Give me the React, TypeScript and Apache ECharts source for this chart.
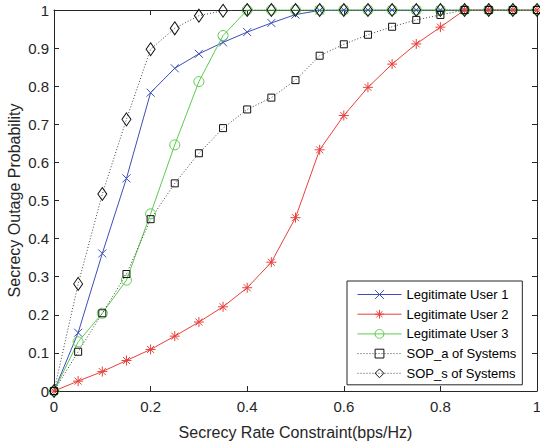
import React, { useEffect, useRef } from "react";
import * as echarts from "echarts";

const rates = [0, 0.05, 0.1, 0.15, 0.2, 0.25, 0.3, 0.35, 0.4, 0.45, 0.5, 0.55, 0.6, 0.65, 0.7, 0.75, 0.8, 0.85, 0.9, 0.95, 1];
const user1 = [0, 0.153, 0.361, 0.558, 0.783, 0.847, 0.885, 0.915, 0.942, 0.966, 0.988, 0.999, 1, 1, 1, 1, 1, 1, 1, 1, 1];
const user2 = [0, 0.026, 0.051, 0.08, 0.109, 0.144, 0.181, 0.221, 0.271, 0.338, 0.455, 0.633, 0.723, 0.797, 0.858, 0.911, 0.955, 1, 1, 1, 1];
const user3 = [0, 0.129, 0.204, 0.291, 0.465, 0.646, 0.812, 0.933, 1, 1, 1, 1, 1, 1, 1, 1, 1, 1, 1, 1, 1];
const sopA = [0, 0.103, 0.204, 0.307, 0.451, 0.545, 0.624, 0.69, 0.739, 0.77, 0.816, 0.88, 0.91, 0.935, 0.956, 0.974, 0.987, 1, 1, 1, 1];
const sopS = [0, 0.281, 0.517, 0.713, 0.897, 0.952, 0.985, 0.998, 1, 1, 1, 1, 1, 1, 1, 1, 1, 1, 1, 1, 1];

const seriesNames = ["Legitimate User 1", "Legitimate User 2", "Legitimate User 3", "SOP_a of Systems", "SOP_s of Systems"];
const xTitle = "Secrecy Rate Constraint(bps/Hz)";
const yTitle = "Secrecy Outage Probability";

const FONT = "'Liberation Sans', Arial, sans-serif";
const AX = "#262626";

const pairs = (vals: number[]) => rates.map((r, i) => [r, vals[i]]);

const CROSS = "path://M0,0L10,10M10,0L0,10";
const STAR = "path://M5,0L5,10M0,5L10,5M1.5,1.5L8.5,8.5M8.5,1.5L1.5,8.5";

const lineColors = ["#3b4fb8", "#e8403a", "#5ccc4c", "#444444", "#444444"];
const markColors = ["#3b4fb8", "#e8403a", "#5ccc4c", "#111111", "#111111"];
const lineTypes: any[] = ["solid", "solid", "solid", [1, 2], [1, 2]];

export default function App() {
  const ref = useRef<HTMLDivElement>(null);
  useEffect(() => {
    if (!ref.current) return;
    const chart = echarts.init(ref.current, undefined, { renderer: "svg" });
    const axisCommon = {
      type: "value" as const,
      min: 0,
      max: 1,
      splitLine: { show: false },
      axisLine: { show: true, onZero: false, lineStyle: { color: AX, width: 1 } },
      axisTick: { show: true, inside: true, length: 5, lineStyle: { color: AX } },
    };
    const mk = (idx: number, vals: number[], symbol: string, size: number | number[]) => ({
      name: seriesNames[idx],
      type: "line",
      data: pairs(vals),
      symbol,
      symbolSize: size,
      showAllSymbol: true,
      lineStyle: { color: lineColors[idx], width: 1, type: lineTypes[idx] },
      itemStyle: { color: "rgba(0,0,0,0)", borderColor: markColors[idx], borderWidth: 1 },
      emphasis: { disabled: true },
      z: 2,
    });
    chart.setOption({
      animation: false,
      textStyle: { fontFamily: FONT },
      grid: { left: 54, right: 3, top: 10, bottom: 53, outerBoundsMode: "none", containLabel: false },
      legend: {
        data: seriesNames.map((n, i) => ({
          name: n,
          lineStyle: { color: lineColors[i], width: 1, type: lineTypes[i] },
          itemStyle: { color: "rgba(0,0,0,0)", borderColor: markColors[i], borderWidth: 1 },
        })),
        orient: "vertical",
        left: 347,
        top: 281,
        padding: [7, 6, 5, 10],
        itemWidth: 44,
        itemHeight: 11,
        itemGap: 6.7,
        backgroundColor: "#ffffff",
        borderColor: AX,
        borderWidth: 1,
        borderRadius: 0,
        textStyle: { fontFamily: FONT, fontSize: 13, color: "#000" },
      },
      xAxis: [
        {
          ...axisCommon,
          interval: 0.2,
          position: "bottom",
          name: xTitle,
          nameLocation: "middle",
          nameGap: 33,
          nameMoveOverlap: false,
          nameTextStyle: { fontFamily: FONT, fontSize: 16, color: AX },
          axisLabel: { margin: 8, fontFamily: FONT, fontSize: 15, color: AX },
        },
        {
          ...axisCommon,
          interval: 0.2,
          position: "top",
          axisLabel: { show: false },
        },
      ],
      yAxis: [
        {
          ...axisCommon,
          interval: 0.1,
          position: "left",
          name: yTitle,
          nameLocation: "middle",
          nameGap: 32,
          nameMoveOverlap: false,
          nameRotate: 90,
          nameTextStyle: { fontFamily: FONT, fontSize: 16, color: AX },
          axisLabel: { margin: 5, fontFamily: FONT, fontSize: 15, color: AX },
        },
        {
          ...axisCommon,
          interval: 0.1,
          position: "right",
          axisLabel: { show: false },
        },
      ],
      series: [
        mk(0, user1, CROSS, 8),
        mk(1, user2, STAR, 10),
        mk(2, user3, "circle", 10),
        mk(3, sopA, "rect", 7),
        mk(4, sopS, "diamond", [9, 13]),
      ],
    });
    return () => chart.dispose();
  }, []);
  return (
    <div
      ref={ref}
      style={{ position: "fixed", left: 0, top: 0, width: 540, height: 444, background: "#fff" }}
    />
  );
}
